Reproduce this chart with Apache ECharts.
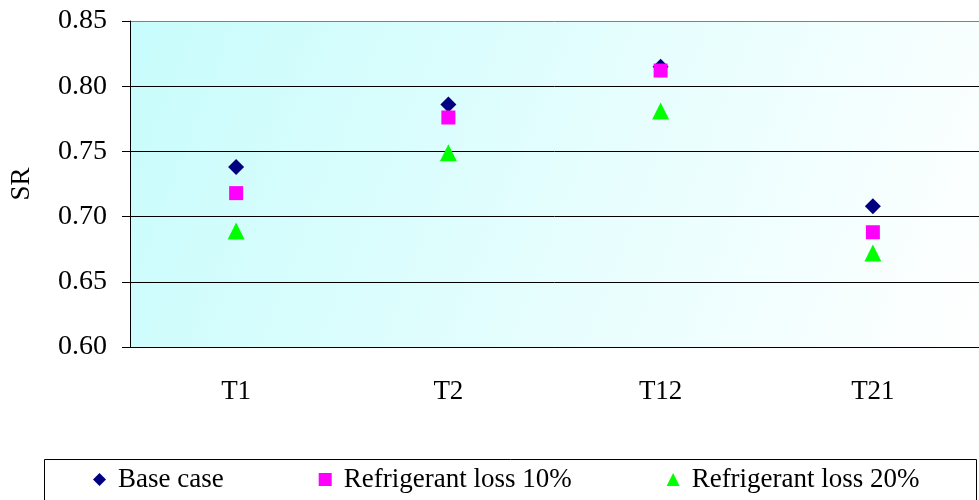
<!DOCTYPE html>
<html><head><meta charset="utf-8">
<script src="https://cdn.jsdelivr.net/npm/echarts@6/dist/echarts.min.js"></script>
<style>html,body{margin:0;padding:0;background:#fff}#c{width:979px;height:500px}</style>
</head><body><div id="c"></div>
<script>
const categories = ['T1', 'T2', 'T12', 'T21'];
const baseCase = [0.738, 0.786, 0.815, 0.708];
const loss10 = [0.718, 0.776, 0.812, 0.688];
const loss20 = [0.689, 0.749, 0.781, 0.672];
const yTicks = [0.60, 0.65, 0.70, 0.75, 0.80, 0.85];

const font = 'Liberation Serif';
const chart = echarts.init(document.getElementById('c'), null, {renderer: 'canvas'});
chart.setOption({
  animation: false,
  textStyle: {fontFamily: font},
  grid: {
    left: 129, top: 21, width: 857, height: 326,
    show: true, borderWidth: 0,
    backgroundColor: {type: 'linear', x: 0, y: 0, x2: 1, y2: 1,
      colorStops: [{offset: 0, color: '#c8fcfc'}, {offset: 1, color: '#ffffff'}]}
  },
  graphic: [{
    type: 'rect', left: 42, top: 457, silent: true,
    shape: {x: 0, y: 0, width: 932, height: 50},
    style: {fill: 'none', stroke: '#000', lineWidth: 1}
  }],
  legend: {
    left: 93, top: 466, width: 880,
    padding: 0, orient: 'horizontal',
    itemGap: 95, itemWidth: 13, itemHeight: 13,
    textStyle: {fontFamily: font, fontSize: 27, color: '#000', padding: [0, 0, 0, 7]},
    data: [
      {name: 'Base case', icon: 'diamond'},
      {name: 'Refrigerant loss 10%', icon: 'rect'},
      {name: 'Refrigerant loss 20%', icon: 'triangle'}
    ]
  },
  xAxis: {
    type: 'category', data: categories, boundaryGap: true,
    axisLine: {lineStyle: {color: '#000'}},
    axisTick: {length: 6, lineStyle: {color: '#000'}},
    axisLabel: {margin: 31, fontSize: 27, color: '#000', fontFamily: font},
    splitLine: {show: false}
  },
  yAxis: {
    type: 'value', min: yTicks[0], max: yTicks[yTicks.length - 1], interval: 0.05,
    name: 'SR', nameLocation: 'middle', nameGap: 95, nameRotate: 90,
    nameTextStyle: {fontSize: 27, color: '#000', fontFamily: font},
    axisLine: {show: true, lineStyle: {color: '#000'}},
    axisTick: {show: true, length: 8, lineStyle: {color: '#000'}},
    axisLabel: {margin: 23, fontSize: 28, color: '#000', fontFamily: font,
      formatter: v => v.toFixed(2)},
    splitLine: {lineStyle: {color: ['#000', '#000', '#000', '#000', '#000', '#808080'], width: 1}}
  },
  series: [
    {name: 'Base case', type: 'scatter', data: baseCase, symbol: 'diamond', symbolSize: 16,
      itemStyle: {color: '#000080', opacity: 1}, z: 3},
    {name: 'Refrigerant loss 10%', type: 'scatter', data: loss10, symbol: 'rect', symbolSize: 14,
      itemStyle: {color: '#ff00ff', opacity: 1}, z: 4},
    {name: 'Refrigerant loss 20%', type: 'scatter', data: loss20, symbol: 'triangle', symbolSize: 17,
      itemStyle: {color: '#00ff00', opacity: 1}, z: 5}
  ]
});
</script></body></html>
